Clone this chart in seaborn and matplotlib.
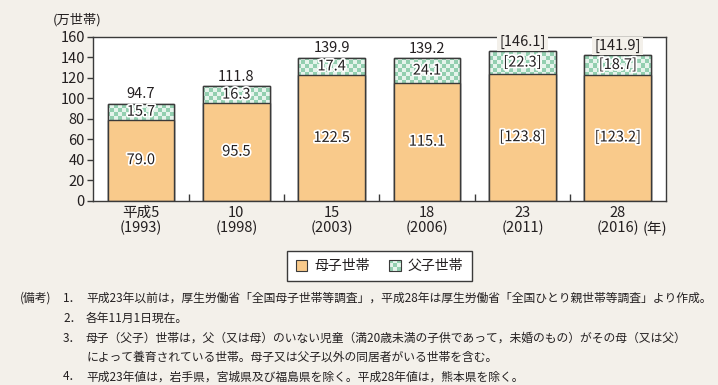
import numpy as np
import matplotlib
matplotlib.use("Agg")
import matplotlib.pyplot as plt
import matplotlib.patheffects as pe
from matplotlib.patches import Rectangle
from matplotlib.legend_handler import HandlerBase
import seaborn as sns

# ---------------- data ----------------
categories = ["平成5\n(1993)", "10\n(1998)", "15\n(2003)", "18\n(2006)", "23\n(2011)", "28\n(2016)"]
mother = [79.0, 95.5, 122.5, 115.1, 123.8, 123.2]
father = [15.7, 16.3, 17.4, 24.1, 22.3, 18.7]
totals = [94.7, 111.8, 139.9, 139.2, 146.1, 141.9]
bracketed = [False, False, False, False, True, True]
yticks = [0, 20, 40, 60, 80, 100, 120, 140, 160]
series_names = ["母子世帯", "父子世帯"]
unit_label = "(万世帯)"
year_label = "(年)"
notes_head = "(備考)"
notes = [
    ("1．", "平成23年以前は，厚生労働省「全国母子世帯等調査」，平成28年は厚生労働省「全国ひとり親世帯等調査」より作成。"),
    ("2．", "各年11月1日現在。"),
    ("3．", "母子（父子）世帯は，父（又は母）のいない児童（満20歳未満の子供であって，未婚のもの）がその母（又は父）"),
    ("", "によって養育されている世帯。母子又は父子以外の同居者がいる世帯を含む。"),
    ("4．", "平成23年値は，岩手県，宮城県及び福島県を除く。平成28年値は，熊本県を除く。"),
]

# ---------------- style ----------------
BG = "#f3f0ea"
ORANGE = "#f9ca8b"
GREEN = "#93cfb0"
LIGHT = "#e6f4ec"
EDGE = "#3a3a3a"
TXT = "#231f20"

sns.set_theme(style="white")
plt.rcParams["font.family"] = ["Noto Sans CJK JP", "DejaVu Sans"]

W, H = 718, 385
fig = plt.figure(figsize=(W / 100, H / 100), dpi=100, facecolor=BG)

def fx(px):
    return px / W

def fy(py):
    return 1 - py / H

ax_l, ax_r, ax_t, ax_b = 93.3, 665.5, 37.0, 200.5
ax = fig.add_axes([fx(ax_l), fy(ax_b), fx(ax_r - ax_l), (ax_b - ax_t) / H])
ax.set_facecolor("white")

# total bars (father segment shows above mother bars)
sns.barplot(x=categories, y=totals, color=GREEN, saturation=1, width=0.7,
            edgecolor=EDGE, linewidth=1.0, ax=ax, zorder=2)
tot_patches = list(ax.patches)
sns.barplot(x=categories, y=mother, color=ORANGE, saturation=1, width=0.7,
            edgecolor=EDGE, linewidth=1.0, ax=ax, zorder=4)
mom_patches = list(ax.patches)[len(tot_patches):]

ax.set_xlim(-0.5, 5.5)
ax.set_ylim(0, 160)

# checker pattern clipped to total bars
cell = 4.0
nx = int(round((ax_r - ax_l) / cell))
ny = int(round((ax_b - ax_t) / cell))
ii, jj = np.meshgrid(np.arange(nx), np.arange(ny))
mask = (ii + jj) % 2 == 0
img = np.zeros((ny, nx, 3))
g = np.array(matplotlib.colors.to_rgb(GREEN))
l = np.array(matplotlib.colors.to_rgb(LIGHT))
img[mask] = g
img[~mask] = l
for p in tot_patches:
    im = ax.imshow(img, extent=(-0.5, 5.5, 0, 160), aspect="auto",
                   interpolation="nearest", zorder=2.5, origin="lower")
    im.set_clip_path(p)
    # redraw edge on top of image
    ax.add_patch(Rectangle(p.get_xy(), p.get_width(), p.get_height(),
                           facecolor="none", edgecolor=EDGE, lw=1.0, zorder=3))
ax.set_xlim(-0.5, 5.5)
ax.set_ylim(0, 160)

halo = [pe.withStroke(linewidth=2.5, foreground="white")]
for i in range(len(categories)):
    fmt = (lambda v: f"[{v:.1f}]") if bracketed[i] else (lambda v: f"{v:.1f}")
    ax.text(i, mother[i] / 2, fmt(mother[i]), ha="center", va="center",
            fontsize=10.5, color=TXT, path_effects=halo, zorder=6)
    ax.text(i, mother[i] + father[i] / 2, fmt(father[i]), ha="center", va="center",
            fontsize=10.5, color=TXT, path_effects=halo, zorder=6)
    ax.annotate(fmt(totals[i]), (i, totals[i]), xytext=(0, 4), textcoords="offset points",
                ha="center", va="baseline", fontsize=10.5, color=TXT, zorder=7,
                annotation_clip=False,
                bbox=dict(boxstyle="square,pad=0.15", facecolor=BG, edgecolor="none") if bracketed[i] else None)

# axes styling
for s in ax.spines.values():
    s.set_visible(True)
    s.set_color(EDGE)
    s.set_linewidth(1.0)
    s.set_zorder(5)
ax.set_yticks(yticks)
ax.set_yticklabels([str(v) for v in yticks])
ax.tick_params(axis="y", direction="out", length=4.5, width=1.0, color=EDGE,
               labelsize=10.5, labelcolor=TXT, pad=1.5, left=True)
ax.set_xticks(range(len(categories)))
ax.set_xticklabels(categories, linespacing=1.05)
ax.tick_params(axis="x", which="major", length=0, labelsize=10.5, labelcolor=TXT, pad=4)
ax.set_xticks(np.arange(0.5, 5.0, 1.0), minor=True)
ax.tick_params(axis="x", which="minor", direction="in", length=5, width=1.0, color=EDGE, bottom=True)
ax.set_xlabel("")
ax.set_ylabel("")

fig.text(fx(77), fy(20), unit_label, ha="center", va="center", fontsize=9.5, color=TXT)
fig.text(fx(655), fy(228.5), year_label, ha="center", va="center", fontsize=10.5, color=TXT)

# legend
class CheckerHandler(HandlerBase):
    def create_artists(self, legend, orig_handle, xdescent, ydescent, width, height, fontsize, trans):
        arts = [Rectangle((-xdescent, -ydescent), width, height, facecolor=LIGHT,
                          edgecolor="none", transform=trans)]
        n = 3
        cw, ch = width / n, height / n
        for a in range(n):
            for b in range(n):
                if (a + b) % 2 == 0:
                    arts.append(Rectangle((-xdescent + a * cw, -ydescent + b * ch), cw, ch,
                                          facecolor=GREEN, edgecolor="none", transform=trans))
        arts.append(Rectangle((-xdescent, -ydescent), width, height, facecolor="none",
                              edgecolor=EDGE, lw=0.8, transform=trans))
        return arts

h_m = Rectangle((0, 0), 1, 1, facecolor=ORANGE, edgecolor=EDGE, lw=0.8)
h_f = Rectangle((0, 0), 1, 1, facecolor=GREEN, edgecolor=EDGE, lw=0.8)
leg = fig.legend([h_m, h_f], series_names, loc="center",
                 bbox_to_anchor=(fx(379.5), fy(266)), ncol=2, fontsize=10,
                 frameon=True, fancybox=False, edgecolor=EDGE, facecolor="white",
                 handlelength=0.85, handleheight=0.85, handletextpad=0.5,
                 columnspacing=1.4, borderpad=0.6, framealpha=1,
                 handler_map={h_f: CheckerHandler()})
leg.get_frame().set_linewidth(1.0)
for t in leg.get_texts():
    t.set_color(TXT)

# notes
ys = [298, 318, 338, 357.5, 377]
fig.text(fx(20), fy(ys[0]), notes_head, ha="left", va="center", fontsize=8.5, color=TXT)
for (num, txt), y in zip(notes, ys):
    if num:
        fig.text(fx(63), fy(y), num, ha="left", va="center", fontsize=8.5, color=TXT)
    fig.text(fx(86), fy(y), txt, ha="left", va="center", fontsize=8.5, color=TXT)

fig.savefig("out.png", dpi=100, facecolor=BG)
